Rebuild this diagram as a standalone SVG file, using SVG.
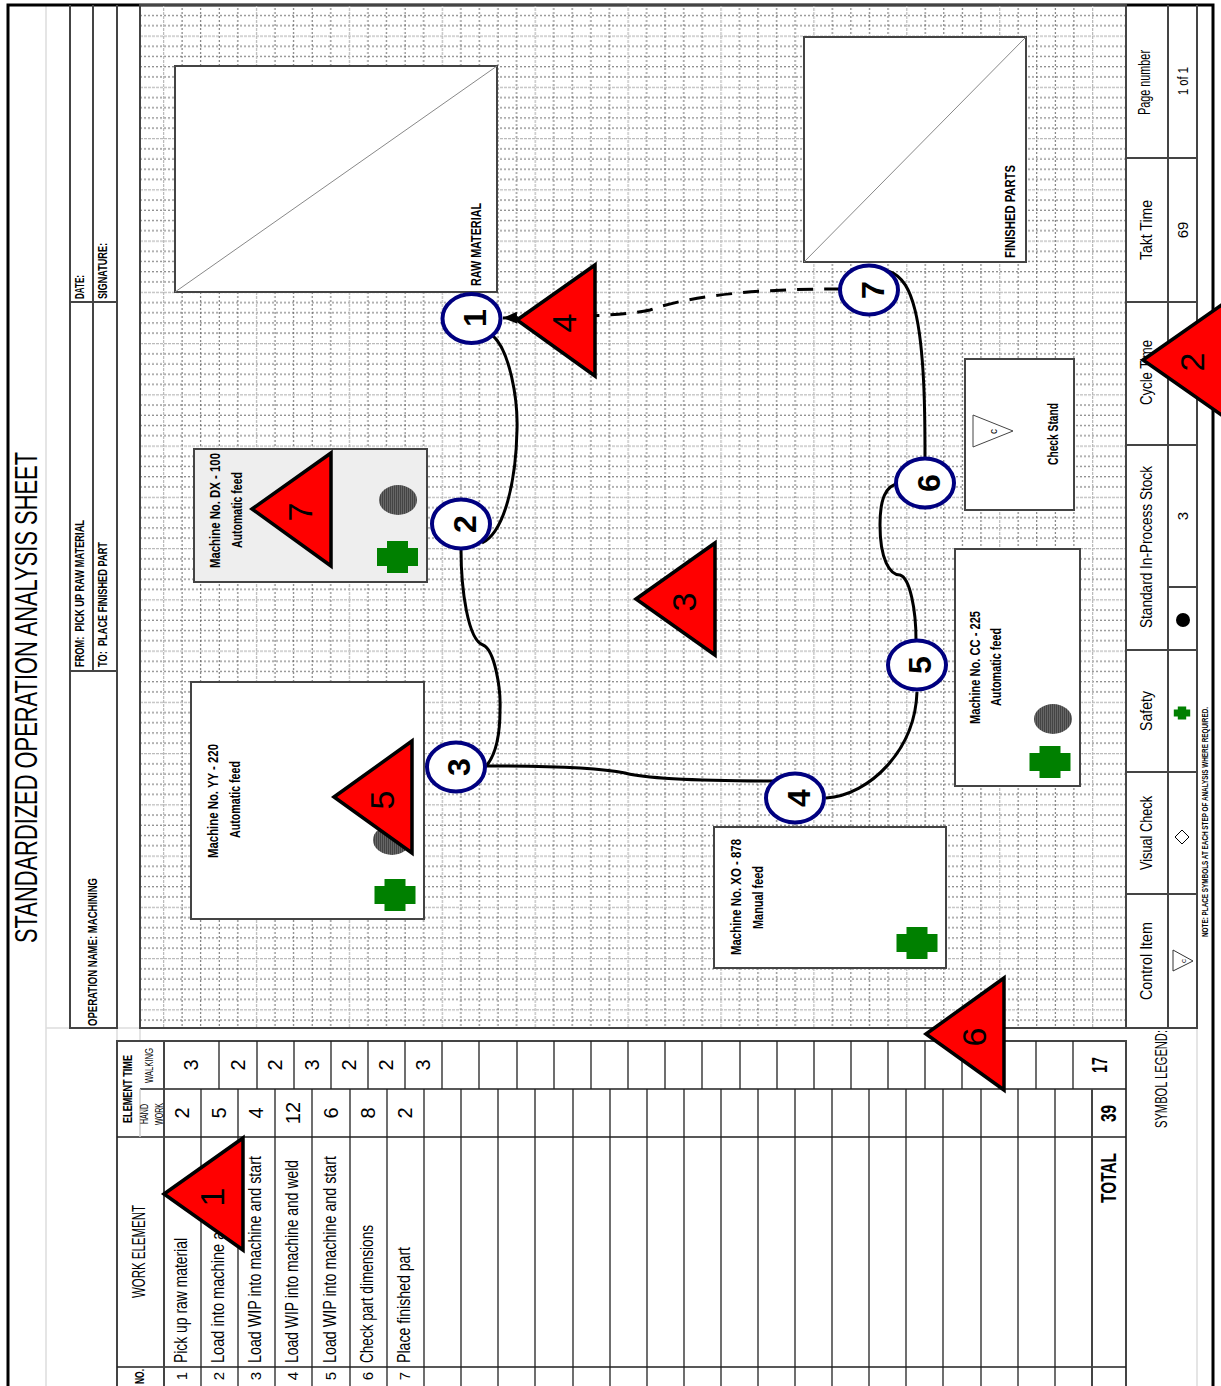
<svg xmlns="http://www.w3.org/2000/svg" width="1221" height="1386" viewBox="0 0 1221 1386">
<style>
text{font-family:"Liberation Sans Narrow","Liberation Sans",Arial,sans-serif;fill:#000}
.r{font-size:19px}
.c{font-size:20px;text-anchor:middle}
.n{font-size:15px;text-anchor:middle}
.h{font-size:12px;font-weight:bold}
.m{font-size:15px;font-weight:bold}
.l{font-size:17px}
.b{font-size:22px;font-weight:bold}
.ci{font-size:32px;font-weight:bold;text-anchor:middle}
.tn{font-size:34px;text-anchor:middle;font-family:"Liberation Sans",sans-serif}
.box{fill:#fff;stroke:#444;stroke-width:2}
.tri{fill:#f00;stroke:#000;stroke-width:3.5;stroke-linejoin:miter}
.cir{fill:#fff;stroke:#000080;stroke-width:4}
.sl{fill:none;stroke:#444;stroke-width:2}
.tl{fill:none;stroke:#222;stroke-width:1.3}
.lg{fill:none;stroke:#ddd;stroke-width:1.5}
.con{fill:none;stroke:#000;stroke-width:3}
.diag{stroke:#888;stroke-width:1}
.saf{fill:#008000}
.stk{fill:url(#stripe)}
</style>
<defs>
<pattern id="gh" patternUnits="userSpaceOnUse" x="0" y="35.5" width="4" height="51.25">
<path d="M0 0.5H4" stroke="#bbb" stroke-width="1.5" stroke-dasharray="3 1"/>
<path d="M0 10.75H2M0 21H2M0 31.25H2M0 41.5H2" stroke="#666" stroke-width="1"/>
</pattern>
<pattern id="gv" patternUnits="userSpaceOnUse" x="163" y="0" width="92.9" height="4">
<path d="M0.5 0V4" stroke="#bbb" stroke-width="1.5" stroke-dasharray="3 1"/>
<path d="M19.08 0V2M37.66 0V2M56.24 0V2M74.82 0V2" stroke="#666" stroke-width="1"/>
</pattern>
<pattern id="stripe" patternUnits="userSpaceOnUse" width="2" height="2">
<rect width="2" height="2" fill="#666"/><rect width="1" height="2" fill="#444"/>
</pattern>
<marker id="ah" markerUnits="userSpaceOnUse" markerWidth="16" markerHeight="12" refX="14" refY="6" orient="auto"><path d="M0 0L14 6L0 12Z" fill="#000"/></marker>
<path id="cross" d="M-10.5-16H10.5V-9H20.5V9H10.5V16H-10.5V9H-20.5V-9H-10.5Z" class="saf"/>
</defs>
<rect width="1221" height="1386" fill="#fff"/>

<g id="sheet">
<path class="lg" d="M46 5V1386M46 1028H70M117 1028V1041M117 1028H140M140 1028V1041M1197 1028V1386"/>
<path d="M8 1386V5H1213V1386" fill="none" stroke="#000" stroke-width="3"/>
<text transform="translate(37,943) rotate(-90)" font-size="31" textLength="491" lengthAdjust="spacingAndGlyphs">STANDARDIZED OPERATION ANALYSIS SHEET</text>
</g>

<g id="header">
<path class="sl" d="M70 5V1028H117V5M93 5V671M70 671H117M70 302H117"/>
<text class="h" transform="translate(84,299) rotate(-90)" textLength="24" lengthAdjust="spacingAndGlyphs">DATE:</text>
<text class="h" transform="translate(107,299) rotate(-90)" textLength="56" lengthAdjust="spacingAndGlyphs">SIGNATURE:</text>
<text class="h" transform="translate(84,667) rotate(-90)" textLength="147" lengthAdjust="spacingAndGlyphs" xml:space="preserve">FROM:  PICK UP RAW MATERIAL</text>
<text class="h" transform="translate(107,667) rotate(-90)" textLength="125" lengthAdjust="spacingAndGlyphs" xml:space="preserve">TO:  PLACE FINISHED PART</text>
<text class="h" transform="translate(97,1026) rotate(-90)" textLength="148" lengthAdjust="spacingAndGlyphs">OPERATION NAME: MACHINING</text>
</g>

<g id="grid">
<rect x="140" y="6" width="986" height="1022" fill="url(#gh)"/>
<rect x="163" y="6" width="947" height="1022" fill="url(#gv)"/>
<rect x="140" y="5" width="986" height="1023" class="sl"/>
</g>

<g id="legend">
<path class="sl" d="M1126 5V1028H1197V5M1168 5V1028M1126 158H1197M1126 302H1197M1126 445H1197M1126 650H1197M1126 772H1197M1126 894H1197M1168 587H1197"/>
<text class="l" transform="translate(1150,115) rotate(-90)" textLength="65" lengthAdjust="spacingAndGlyphs">Page number</text>
<text class="l" transform="translate(1152,260) rotate(-90)" textLength="60" lengthAdjust="spacingAndGlyphs">Takt Time</text>
<text class="l" transform="translate(1152,405) rotate(-90)" textLength="65" lengthAdjust="spacingAndGlyphs">Cycle Time</text>
<text class="l" transform="translate(1152,628) rotate(-90)" textLength="162" lengthAdjust="spacingAndGlyphs">Standard In-Process Stock</text>
<text class="l" transform="translate(1152,731) rotate(-90)" textLength="40" lengthAdjust="spacingAndGlyphs">Safety</text>
<text class="l" transform="translate(1152,870) rotate(-90)" textLength="74" lengthAdjust="spacingAndGlyphs">Visual Check</text>
<text class="l" transform="translate(1152,1000) rotate(-90)" textLength="78" lengthAdjust="spacingAndGlyphs">Control Item</text>
<text class="n" transform="translate(1188,81) rotate(-90)" textLength="28" lengthAdjust="spacingAndGlyphs">1 of 1</text>
<text class="n" transform="translate(1188,230) rotate(-90)">69</text>
<text class="n" transform="translate(1188,516) rotate(-90)">3</text>
<circle cx="1183" cy="620" r="7"/>
<use href="#cross" transform="translate(1182,713) scale(.4)"/>
<path d="M1175 837L1182 830L1189 837L1182 844Z" fill="#fff" stroke="#000"/>
<path d="M1173 950V971L1193 961Z" fill="#fff" stroke="#333"/>
<text font-size="8" transform="translate(1186,963) rotate(-90)">c</text>
<text font-size="9" font-weight="bold" transform="translate(1208,937) rotate(-90)" textLength="230" lengthAdjust="spacingAndGlyphs">NOTE:  PLACE SYMBOLS AT EACH STEP OF ANALYSIS WHERE REQUIRED.</text>
<text class="l" transform="translate(1167,1128) rotate(-90)" textLength="98" lengthAdjust="spacingAndGlyphs">SYMBOL LEGEND:</text>
</g>

<g id="table">
<path class="sl" d="M117 1386V1041H1126V1386"/>
<path class="tl" d="M140 1089H1126M117 1137H1126M117 1367H1126"/>
<path d="M140 1089V1137" stroke="#ccc" stroke-width="1.5"/>
<path class="sl" d="M164 1041V1386M1092 1089V1386"/>
<path class="tl" stroke-width="1.5" d="M219 1041V1089M257 1041V1089M294 1041V1089M331 1041V1089M368 1041V1089M405 1041V1089M442 1041V1089M479 1041V1089M517 1041V1089M554 1041V1089M591 1041V1089M628 1041V1089M665 1041V1089M702 1041V1089M740 1041V1089M777 1041V1089M814 1041V1089M851 1041V1089M888 1041V1089M925 1041V1089M962 1041V1089M999 1041V1089M1036 1041V1089M1073 1041V1089"/>
<path class="tl" stroke-width="1.5" d="M201 1089V1386M238 1089V1386M275 1089V1386M312 1089V1386M350 1089V1386M387 1089V1386M424 1089V1386M461 1089V1386M498 1089V1386M535 1089V1386M573 1089V1386M610 1089V1386M647 1089V1386M684 1089V1386M721 1089V1386M758 1089V1386M795 1089V1386M832 1089V1386M869 1089V1386M906 1089V1386M943 1089V1386M981 1089V1386M1018 1089V1386M1055 1089V1386"/>
<text class="h" transform="translate(132,1123) rotate(-90)" textLength="68" lengthAdjust="spacingAndGlyphs">ELEMENT TIME</text>
<text font-size="10" transform="translate(153,1083) rotate(-90)" textLength="35" lengthAdjust="spacingAndGlyphs">WALKING</text>
<text font-size="10" transform="translate(148,1124) rotate(-90)" textLength="20" lengthAdjust="spacingAndGlyphs">HAND</text>
<text font-size="10" transform="translate(163,1125) rotate(-90)" textLength="22" lengthAdjust="spacingAndGlyphs">WORK</text>
<text font-size="18" transform="translate(145,1298) rotate(-90)" textLength="93" lengthAdjust="spacingAndGlyphs">WORK ELEMENT</text>
<text class="h" transform="translate(144,1384) rotate(-90)" textLength="15" lengthAdjust="spacingAndGlyphs">NO.</text>

<text class="n" transform="translate(187,1376) rotate(-90)">1</text>
<text class="n" transform="translate(224,1376) rotate(-90)">2</text>
<text class="n" transform="translate(261,1376) rotate(-90)">3</text>
<text class="n" transform="translate(298,1376) rotate(-90)">4</text>
<text class="n" transform="translate(336,1376) rotate(-90)">5</text>
<text class="n" transform="translate(373,1376) rotate(-90)">6</text>
<text class="n" transform="translate(410,1376) rotate(-90)">7</text>

<text class="r" transform="translate(187,1363) rotate(-90)" textLength="125" lengthAdjust="spacingAndGlyphs">Pick up raw material</text>
<text class="r" transform="translate(224,1363) rotate(-90)" textLength="180" lengthAdjust="spacingAndGlyphs">Load into machine and start</text>
<text class="r" transform="translate(261,1363) rotate(-90)" textLength="207" lengthAdjust="spacingAndGlyphs">Load WIP into machine and start</text>
<text class="r" transform="translate(298,1363) rotate(-90)" textLength="203" lengthAdjust="spacingAndGlyphs">Load WIP into machine and weld</text>
<text class="r" transform="translate(336,1363) rotate(-90)" textLength="207" lengthAdjust="spacingAndGlyphs">Load WIP into machine and start</text>
<text class="r" transform="translate(373,1363) rotate(-90)" textLength="138" lengthAdjust="spacingAndGlyphs">Check part dimensions</text>
<text class="r" transform="translate(410,1363) rotate(-90)" textLength="116" lengthAdjust="spacingAndGlyphs">Place finished part</text>

<text class="c" transform="translate(189,1113) rotate(-90)">2</text>
<text class="c" transform="translate(226,1113) rotate(-90)">5</text>
<text class="c" transform="translate(263,1113) rotate(-90)">4</text>
<text class="c" transform="translate(300,1113) rotate(-90)">12</text>
<text class="c" transform="translate(338,1113) rotate(-90)">6</text>
<text class="c" transform="translate(375,1113) rotate(-90)">8</text>
<text class="c" transform="translate(412,1113) rotate(-90)">2</text>

<text class="c" transform="translate(198,1065) rotate(-90)">3</text>
<text class="c" transform="translate(245,1065) rotate(-90)">2</text>
<text class="c" transform="translate(282,1065) rotate(-90)">2</text>
<text class="c" transform="translate(319,1065) rotate(-90)">3</text>
<text class="c" transform="translate(356,1065) rotate(-90)">2</text>
<text class="c" transform="translate(393,1065) rotate(-90)">2</text>
<text class="c" transform="translate(430,1065) rotate(-90)">3</text>

<text class="b" transform="translate(1116,1203) rotate(-90)" textLength="50" lengthAdjust="spacingAndGlyphs">TOTAL</text>
<text class="b" transform="translate(1116,1122) rotate(-90)" textLength="17" lengthAdjust="spacingAndGlyphs">39</text>
<text class="b" transform="translate(1107,1073) rotate(-90)" textLength="16" lengthAdjust="spacingAndGlyphs">17</text>
</g>

<g id="raw-material">
<rect class="box" x="175" y="66" width="322" height="226"/>
<path class="diag" d="M175 292L497 66"/>
<text class="m" transform="translate(481,286) rotate(-90)" textLength="83" lengthAdjust="spacingAndGlyphs">RAW MATERIAL</text>
</g>
<g id="finished-parts">
<rect class="box" x="804" y="37" width="222" height="225"/>
<path class="diag" d="M804 262L1026 37"/>
<text class="m" transform="translate(1015,258) rotate(-90)" textLength="93" lengthAdjust="spacingAndGlyphs">FINISHED PARTS</text>
</g>
<g id="machine-dx">
<rect x="194" y="449" width="233" height="133" fill="#eee" stroke="#444" stroke-width="2"/>
<text class="m" transform="translate(220,568) rotate(-90)" textLength="115" lengthAdjust="spacingAndGlyphs">Machine No. DX - 100</text>
<text class="m" transform="translate(242,548) rotate(-90)" textLength="76" lengthAdjust="spacingAndGlyphs">Automatic feed</text>
<ellipse class="stk" cx="398" cy="500" rx="19" ry="15"/>
<use href="#cross" x="397.5" y="557"/>
</g>
<g id="machine-yy">
<rect class="box" x="191" y="682" width="233" height="237"/>
<text class="m" transform="translate(218,858) rotate(-90)" textLength="114" lengthAdjust="spacingAndGlyphs">Machine No. YY - 220</text>
<text class="m" transform="translate(240,838) rotate(-90)" textLength="77" lengthAdjust="spacingAndGlyphs">Automatic feed</text>
<ellipse class="stk" cx="392" cy="840" rx="19" ry="15"/>
<use href="#cross" x="395" y="895"/>
</g>
<g id="machine-xo">
<rect class="box" x="714" y="827" width="232" height="141"/>
<text class="m" transform="translate(741,955) rotate(-90)" textLength="116" lengthAdjust="spacingAndGlyphs">Machine No. XO - 878</text>
<text class="m" transform="translate(763,929) rotate(-90)" textLength="63" lengthAdjust="spacingAndGlyphs">Manual feed</text>
<use href="#cross" x="917" y="943"/>
</g>
<g id="machine-cc">
<rect class="box" x="955" y="549" width="125" height="237"/>
<text class="m" transform="translate(980,724) rotate(-90)" textLength="113" lengthAdjust="spacingAndGlyphs">Machine No. CC - 225</text>
<text class="m" transform="translate(1001,706) rotate(-90)" textLength="78" lengthAdjust="spacingAndGlyphs">Automatic feed</text>
<ellipse class="stk" cx="1053" cy="719" rx="19" ry="15"/>
<use href="#cross" x="1050" y="762"/>
</g>
<g id="check-stand">
<rect class="box" x="965" y="359" width="109" height="151"/>
<path d="M973 415V447L1013 431Z" fill="#fff" stroke="#444" stroke-width="1"/>
<text font-size="10" transform="translate(997,434) rotate(-90)">c</text>
<text class="m" transform="translate(1058,465) rotate(-90)" textLength="62" lengthAdjust="spacingAndGlyphs">Check Stand</text>
</g>

<g id="connectors">
<path class="con" d="M492 335C510 350 518 400 517 430C516 480 505 532 482 543"/>
<path class="con" d="M461 549C461 590 468 640 483 645C495 650 501 690 500 710C500 740 495 755 487 765"/>
<path class="con" stroke-width="2" d="M486 766C540 766 600 768 625 773C650 780 720 781 780 781"/>
<path class="con" d="M826 798C870 795 915 750 917 692"/>
<path class="con" stroke-width="2.5" d="M916 640C916 610 910 578 900 575C890 575 880 560 880 525C880 500 885 485 900 483"/>
<path class="con" d="M925 458C925 420 925 350 915 310C910 290 903 276 888 271"/>
<path class="con" stroke-dasharray="16 11" marker-end="url(#ah)" d="M840 289C780 289 700 292 650 310C620 316 590 316 503 318"/>
</g>

<g id="step-1"><ellipse class="cir" cx="471.5" cy="318.5" rx="29" ry="24.5"/><text class="ci" transform="translate(486,318) rotate(-90)">1</text></g>
<g id="step-2"><ellipse class="cir" cx="461" cy="524" rx="29" ry="24.5"/><text class="ci" transform="translate(476,524) rotate(-90)">2</text></g>
<g id="step-3"><ellipse class="cir" cx="456" cy="767" rx="29" ry="24.5"/><text class="ci" transform="translate(470,767) rotate(-90)">3</text></g>
<g id="step-4"><ellipse class="cir" cx="795" cy="798" rx="29" ry="24.5"/><text class="ci" transform="translate(810,798) rotate(-90)">4</text></g>
<g id="step-5"><ellipse class="cir" cx="917" cy="665" rx="29" ry="24.5"/><text class="ci" transform="translate(931,665) rotate(-90)">5</text></g>
<g id="step-6"><ellipse class="cir" cx="925" cy="483" rx="29" ry="24.5"/><text class="ci" transform="translate(940,483) rotate(-90)">6</text></g>
<g id="step-7"><ellipse class="cir" cx="869" cy="290" rx="29" ry="24.5"/><text class="ci" transform="translate(884,290) rotate(-90)">7</text></g>

<g id="tri-1"><path class="tri" d="M164 1194L243 1138V1250Z"/><text class="tn" transform="translate(224,1197) rotate(-90)">1</text></g>
<g id="tri-2"><path class="tri" d="M1143 360L1223 304V416Z"/><text class="tn" transform="translate(1204,362) rotate(-90)">2</text></g>
<g id="tri-3"><path class="tri" d="M636 599L715 543V655Z"/><text class="tn" transform="translate(696,602) rotate(-90)">3</text></g>
<g id="tri-4"><path class="tri" d="M517 320L595 265V376Z"/><text class="tn" transform="translate(576,323) rotate(-90)">4</text></g>
<g id="tri-5"><path class="tri" d="M334 797L412 741V853Z"/><text class="tn" transform="translate(394,800) rotate(-90)">5</text></g>
<g id="tri-6"><path class="tri" d="M926 1034L1004 978V1090Z"/><text class="tn" transform="translate(986,1037) rotate(-90)">6</text></g>
<g id="tri-7"><path class="tri" d="M252 509L331 453V566Z"/><text class="tn" transform="translate(312,512) rotate(-90)">7</text></g>
</svg>
